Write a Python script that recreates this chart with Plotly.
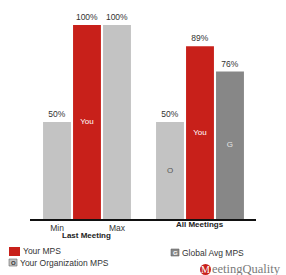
import plotly.graph_objects as go

# ---------------- data ----------------
last_categories = ["Min", "You", "Max"]
last_tick_labels = ["Min", "", "Max"]
last_values = [50, 100, 100]
last_inner_labels = ["", "You", ""]

all_categories = ["Organization", "You", "Global"]
all_values = [50, 89, 76]
all_inner_labels = ["O", "You", "G"]

group_titles = ["Last Meeting", "All Meetings"]

legend_labels = ["Your MPS", "Your Organization MPS", "Global Avg MPS"]
legend_letters = ["", "O", "G"]

# ---------------- styles ----------------
RED = "#C8201A"
LIGHT = "#C3C3C3"
DARK = "#878787"
last_colors = [LIGHT, RED, LIGHT]
all_colors = [LIGHT, RED, DARK]
last_inner_colors = ["#555555", "white", "#555555"]
all_inner_colors = ["#555555", "white", "#E6E6E6"]
legend_colors = [RED, LIGHT, DARK]
legend_letter_colors = ["white", "#333333", "white"]

FONT = "Liberation Sans, Arial, sans-serif"
W, H = 286, 275
ML, MR, MT, MB = 30, 30, 15, 56
PW, PH = W - ML - MR, H - MT - MB


def px(x):
    return (x - ML) / PW


def py(y):
    return (H - MB - y) / PH


fig = go.Figure()

for cats, vals, inner, colors, icolors, xa in [
    (last_categories, last_values, last_inner_labels, last_colors, last_inner_colors, "x"),
    (all_categories, all_values, all_inner_labels, all_colors, all_inner_colors, "x2"),
]:
    fig.add_trace(go.Bar(
        x=cats, y=vals, xaxis=xa, yaxis="y",
        marker=dict(color=colors, line=dict(width=0)),
        text=[f"{v}%" for v in vals], textposition="outside",
        textfont=dict(family=FONT, size=8.5, color="#333333"),
        cliponaxis=False, showlegend=False, hoverinfo="skip",
    ))
    fig.add_trace(go.Scatter(
        x=cats, y=[v / 2 for v in vals], xaxis=xa, yaxis="y",
        mode="text", text=inner, textposition="middle center",
        textfont=dict(family=FONT, size=8, color=icolors),
        showlegend=False, hoverinfo="skip",
    ))

axis_common = dict(
    type="category", range=[-0.9, 2.867], showline=True, linecolor="#111111",
    linewidth=1.5, ticks="", showgrid=False, zeroline=False, fixedrange=True,
    tickfont=dict(family=FONT, size=8.5, color="#333333"),
)
fig.update_layout(
    width=W, height=H,
    margin=dict(l=ML, r=MR, t=MT, b=MB, pad=0),
    paper_bgcolor="white", plot_bgcolor="white",
    bargap=0.07,
    xaxis=dict(domain=[0, 0.5], anchor="y", categoryarray=last_categories,
               tickvals=last_categories, ticktext=last_tick_labels, **axis_common),
    xaxis2=dict(domain=[0.5, 1], anchor="y", categoryarray=all_categories,
                showticklabels=False, **axis_common),
    yaxis=dict(range=[0, 100 * PH / (H - MB - 25)], visible=False, fixedrange=True),
    font=dict(family=FONT),
)

# group titles
fig.add_annotation(text=f"<b>{group_titles[0]}</b>", xref="x", x=last_categories[1],
                   yref="paper", y=py(236), yanchor="middle", showarrow=False,
                   font=dict(family=FONT, size=8, color="#222222"))
fig.add_annotation(text=f"<b>{group_titles[1]}</b>", xref="x2", x=all_categories[1],
                   yref="paper", y=py(225), yanchor="middle", showarrow=False,
                   font=dict(family=FONT, size=8, color="#222222"))

# legend
legend_pos = [(9, 247), (9, 259), (171, 249)]
for lab, letter, col, lcol, (lx, ly) in zip(legend_labels, legend_letters, legend_colors,
                                          legend_letter_colors, legend_pos):
    w = 11 if letter == "" else 8
    hgt = 9 if letter == "" else 7
    fig.add_shape(type="rect", xref="paper", yref="paper", layer="below",
                  x0=px(lx), x1=px(lx + w), y0=py(ly), y1=py(ly + hgt),
                  fillcolor=col,
                  line=dict(width=0.6, color="#666666") if letter else dict(width=0))
    if letter:
        fig.add_annotation(text=f"<b>{letter}</b>", xref="paper", yref="paper",
                           x=px(lx + w / 2), y=py(ly + hgt / 2), showarrow=False,
                           xanchor="center", yanchor="middle", borderpad=0,
                           font=dict(family=FONT, size=6, color=lcol))
    fig.add_annotation(text=lab, xref="paper", yref="paper",
                       x=px(lx + w + 1), y=py(ly + hgt / 2), xanchor="left", yanchor="middle",
                       showarrow=False, font=dict(family=FONT, size=8.5, color="#333333"))

# logo
fig.add_shape(type="circle", xref="paper", yref="paper", layer="below",
              x0=px(200), x1=px(211), y0=py(264), y1=py(275),
              fillcolor=RED, line=dict(width=0))
fig.add_annotation(text="M", xref="paper", yref="paper", x=px(205.5), y=py(269.5),
                   showarrow=False, borderpad=0, xanchor="center", yanchor="middle",
                   font=dict(family="Liberation Serif, serif", size=10, color="white"))
fig.add_annotation(text="eetingQuality", xref="paper", yref="paper", x=px(210.5), y=py(269),
                   xanchor="left", yanchor="middle", showarrow=False, borderpad=0,
                   font=dict(family="Liberation Serif, serif", size=12.5, color="#7A7A7A"))

fig.write_html("out.html", config={"displayModeBar": False},
               post_script="document.body.style.margin='0';")
